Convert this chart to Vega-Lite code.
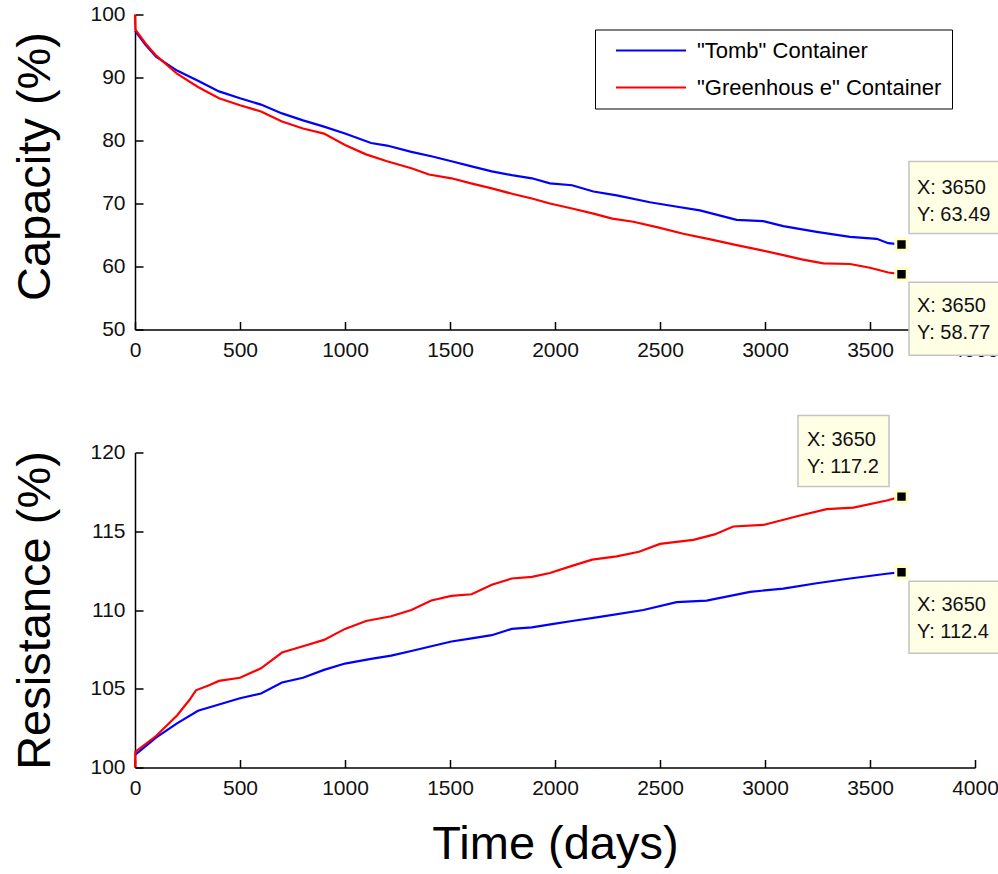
{
  "$schema": "https://vega.github.io/schema/vega-lite/v6.json",
  "background": "white",
  "padding": {"left": 10, "top": 3.5, "right": 0, "bottom": 0},
  "bounds": "flush",
  "spacing": 123,
  "config": {
    "view": {"stroke": null},
    "axis": {
      "grid": false,
      "domainColor": "#000",
      "domainWidth": 1.5,
      "tickColor": "#000",
      "tickWidth": 1.5,
      "tickSize": -8,
      "labelPadding": 18,
      "labelFlush": false,
      "labelOverlap": false,
      "format": "d",
      "labelFont": "Liberation Sans",
      "labelFontSize": 21,
      "labelColor": "#111",
      "titleFont": "Liberation Sans",
      "titleFontSize": 47,
      "titleFontWeight": "normal",
      "titleColor": "#000"
    }
  },
  "resolve": {"legend": {"color": "independent"}},
  "datasets": {
    "capacity": [
      {"day": 0, "value": 97.4, "series": "\"Tomb\" Container"},
      {"day": 50, "value": 95.2, "series": "\"Tomb\" Container"},
      {"day": 100, "value": 93.3, "series": "\"Tomb\" Container"},
      {"day": 200, "value": 91.1, "series": "\"Tomb\" Container"},
      {"day": 300, "value": 89.5, "series": "\"Tomb\" Container"},
      {"day": 400, "value": 87.8, "series": "\"Tomb\" Container"},
      {"day": 500, "value": 86.7, "series": "\"Tomb\" Container"},
      {"day": 600, "value": 85.7, "series": "\"Tomb\" Container"},
      {"day": 700, "value": 84.3, "series": "\"Tomb\" Container"},
      {"day": 800, "value": 83.2, "series": "\"Tomb\" Container"},
      {"day": 900, "value": 82.2, "series": "\"Tomb\" Container"},
      {"day": 1000, "value": 81.1, "series": "\"Tomb\" Container"},
      {"day": 1124, "value": 79.6, "series": "\"Tomb\" Container"},
      {"day": 1200, "value": 79.2, "series": "\"Tomb\" Container"},
      {"day": 1316, "value": 78.2, "series": "\"Tomb\" Container"},
      {"day": 1411, "value": 77.5, "series": "\"Tomb\" Container"},
      {"day": 1507, "value": 76.7, "series": "\"Tomb\" Container"},
      {"day": 1603, "value": 75.9, "series": "\"Tomb\" Container"},
      {"day": 1699, "value": 75.1, "series": "\"Tomb\" Container"},
      {"day": 1794, "value": 74.5, "series": "\"Tomb\" Container"},
      {"day": 1890, "value": 74.0, "series": "\"Tomb\" Container"},
      {"day": 1976, "value": 73.2, "series": "\"Tomb\" Container"},
      {"day": 2081, "value": 72.9, "series": "\"Tomb\" Container"},
      {"day": 2183, "value": 71.9, "series": "\"Tomb\" Container"},
      {"day": 2294, "value": 71.3, "series": "\"Tomb\" Container"},
      {"day": 2452, "value": 70.2, "series": "\"Tomb\" Container"},
      {"day": 2560, "value": 69.6, "series": "\"Tomb\" Container"},
      {"day": 2690, "value": 68.9, "series": "\"Tomb\" Container"},
      {"day": 2865, "value": 67.4, "series": "\"Tomb\" Container"},
      {"day": 2992, "value": 67.2, "series": "\"Tomb\" Container"},
      {"day": 3087, "value": 66.4, "series": "\"Tomb\" Container"},
      {"day": 3246, "value": 65.5, "series": "\"Tomb\" Container"},
      {"day": 3405, "value": 64.7, "series": "\"Tomb\" Container"},
      {"day": 3532, "value": 64.4, "series": "\"Tomb\" Container"},
      {"day": 3587, "value": 63.7, "series": "\"Tomb\" Container"},
      {"day": 3650, "value": 63.49, "series": "\"Tomb\" Container"},
      {"day": 0, "value": 100, "series": "\"Greenhous e\" Container"},
      {"day": 2, "value": 97.6, "series": "\"Greenhous e\" Container"},
      {"day": 50, "value": 95.4, "series": "\"Greenhous e\" Container"},
      {"day": 100, "value": 93.5, "series": "\"Greenhous e\" Container"},
      {"day": 200, "value": 90.6, "series": "\"Greenhous e\" Container"},
      {"day": 300, "value": 88.5, "series": "\"Greenhous e\" Container"},
      {"day": 400, "value": 86.7, "series": "\"Greenhous e\" Container"},
      {"day": 500, "value": 85.6, "series": "\"Greenhous e\" Container"},
      {"day": 600, "value": 84.6, "series": "\"Greenhous e\" Container"},
      {"day": 700, "value": 83.0, "series": "\"Greenhous e\" Container"},
      {"day": 800, "value": 81.9, "series": "\"Greenhous e\" Container"},
      {"day": 900, "value": 81.1, "series": "\"Greenhous e\" Container"},
      {"day": 1000, "value": 79.3, "series": "\"Greenhous e\" Container"},
      {"day": 1100, "value": 77.8, "series": "\"Greenhous e\" Container"},
      {"day": 1200, "value": 76.7, "series": "\"Greenhous e\" Container"},
      {"day": 1316, "value": 75.6, "series": "\"Greenhous e\" Container"},
      {"day": 1400, "value": 74.6, "series": "\"Greenhous e\" Container"},
      {"day": 1507, "value": 74.0, "series": "\"Greenhous e\" Container"},
      {"day": 1600, "value": 73.2, "series": "\"Greenhous e\" Container"},
      {"day": 1699, "value": 72.4, "series": "\"Greenhous e\" Container"},
      {"day": 1800, "value": 71.5, "series": "\"Greenhous e\" Container"},
      {"day": 1890, "value": 70.8, "series": "\"Greenhous e\" Container"},
      {"day": 1976, "value": 70.0, "series": "\"Greenhous e\" Container"},
      {"day": 2081, "value": 69.2, "series": "\"Greenhous e\" Container"},
      {"day": 2183, "value": 68.4, "series": "\"Greenhous e\" Container"},
      {"day": 2273, "value": 67.6, "series": "\"Greenhous e\" Container"},
      {"day": 2373, "value": 67.1, "series": "\"Greenhous e\" Container"},
      {"day": 2490, "value": 66.2, "series": "\"Greenhous e\" Container"},
      {"day": 2611, "value": 65.2, "series": "\"Greenhous e\" Container"},
      {"day": 2740, "value": 64.3, "series": "\"Greenhous e\" Container"},
      {"day": 2865, "value": 63.4, "series": "\"Greenhous e\" Container"},
      {"day": 2980, "value": 62.6, "series": "\"Greenhous e\" Container"},
      {"day": 3087, "value": 61.8, "series": "\"Greenhous e\" Container"},
      {"day": 3180, "value": 61.1, "series": "\"Greenhous e\" Container"},
      {"day": 3278, "value": 60.5, "series": "\"Greenhous e\" Container"},
      {"day": 3405, "value": 60.4, "series": "\"Greenhous e\" Container"},
      {"day": 3500, "value": 59.8, "series": "\"Greenhous e\" Container"},
      {"day": 3587, "value": 59.05, "series": "\"Greenhous e\" Container"},
      {"day": 3650, "value": 58.77, "series": "\"Greenhous e\" Container"}
    ],
    "resistance": [
      {"day": 0, "value": 100.8, "series": "\"Tomb\" Container"},
      {"day": 100, "value": 101.9, "series": "\"Tomb\" Container"},
      {"day": 200, "value": 102.8, "series": "\"Tomb\" Container"},
      {"day": 300, "value": 103.6, "series": "\"Tomb\" Container"},
      {"day": 400, "value": 104.0, "series": "\"Tomb\" Container"},
      {"day": 500, "value": 104.4, "series": "\"Tomb\" Container"},
      {"day": 600, "value": 104.7, "series": "\"Tomb\" Container"},
      {"day": 700, "value": 105.4, "series": "\"Tomb\" Container"},
      {"day": 800, "value": 105.7, "series": "\"Tomb\" Container"},
      {"day": 900, "value": 106.2, "series": "\"Tomb\" Container"},
      {"day": 1000, "value": 106.6, "series": "\"Tomb\" Container"},
      {"day": 1124, "value": 106.9, "series": "\"Tomb\" Container"},
      {"day": 1220, "value": 107.1, "series": "\"Tomb\" Container"},
      {"day": 1316, "value": 107.4, "series": "\"Tomb\" Container"},
      {"day": 1411, "value": 107.7, "series": "\"Tomb\" Container"},
      {"day": 1507, "value": 108.0, "series": "\"Tomb\" Container"},
      {"day": 1603, "value": 108.2, "series": "\"Tomb\" Container"},
      {"day": 1699, "value": 108.4, "series": "\"Tomb\" Container"},
      {"day": 1794, "value": 108.8, "series": "\"Tomb\" Container"},
      {"day": 1890, "value": 108.9, "series": "\"Tomb\" Container"},
      {"day": 1986, "value": 109.1, "series": "\"Tomb\" Container"},
      {"day": 2081, "value": 109.3, "series": "\"Tomb\" Container"},
      {"day": 2214, "value": 109.56, "series": "\"Tomb\" Container"},
      {"day": 2421, "value": 110.0, "series": "\"Tomb\" Container"},
      {"day": 2579, "value": 110.5, "series": "\"Tomb\" Container"},
      {"day": 2722, "value": 110.6, "series": "\"Tomb\" Container"},
      {"day": 2929, "value": 111.15, "series": "\"Tomb\" Container"},
      {"day": 3087, "value": 111.36, "series": "\"Tomb\" Container"},
      {"day": 3246, "value": 111.7, "series": "\"Tomb\" Container"},
      {"day": 3405, "value": 112.0, "series": "\"Tomb\" Container"},
      {"day": 3579, "value": 112.3, "series": "\"Tomb\" Container"},
      {"day": 3650, "value": 112.4, "series": "\"Tomb\" Container"},
      {"day": 0, "value": 100, "series": "\"Greenhous e\" Container"},
      {"day": 2, "value": 101.0, "series": "\"Greenhous e\" Container"},
      {"day": 100, "value": 102.0, "series": "\"Greenhous e\" Container"},
      {"day": 200, "value": 103.3, "series": "\"Greenhous e\" Container"},
      {"day": 260, "value": 104.3, "series": "\"Greenhous e\" Container"},
      {"day": 290, "value": 104.9, "series": "\"Greenhous e\" Container"},
      {"day": 350, "value": 105.2, "series": "\"Greenhous e\" Container"},
      {"day": 400, "value": 105.5, "series": "\"Greenhous e\" Container"},
      {"day": 500, "value": 105.7, "series": "\"Greenhous e\" Container"},
      {"day": 600, "value": 106.3, "series": "\"Greenhous e\" Container"},
      {"day": 700, "value": 107.3, "series": "\"Greenhous e\" Container"},
      {"day": 800, "value": 107.7, "series": "\"Greenhous e\" Container"},
      {"day": 900, "value": 108.1, "series": "\"Greenhous e\" Container"},
      {"day": 1000, "value": 108.8, "series": "\"Greenhous e\" Container"},
      {"day": 1100, "value": 109.3, "series": "\"Greenhous e\" Container"},
      {"day": 1220, "value": 109.6, "series": "\"Greenhous e\" Container"},
      {"day": 1316, "value": 110.0, "series": "\"Greenhous e\" Container"},
      {"day": 1411, "value": 110.6, "series": "\"Greenhous e\" Container"},
      {"day": 1507, "value": 110.9, "series": "\"Greenhous e\" Container"},
      {"day": 1603, "value": 111.0, "series": "\"Greenhous e\" Container"},
      {"day": 1699, "value": 111.6, "series": "\"Greenhous e\" Container"},
      {"day": 1794, "value": 112.0, "series": "\"Greenhous e\" Container"},
      {"day": 1890, "value": 112.1, "series": "\"Greenhous e\" Container"},
      {"day": 1976, "value": 112.35, "series": "\"Greenhous e\" Container"},
      {"day": 2081, "value": 112.8, "series": "\"Greenhous e\" Container"},
      {"day": 2177, "value": 113.2, "series": "\"Greenhous e\" Container"},
      {"day": 2294, "value": 113.4, "series": "\"Greenhous e\" Container"},
      {"day": 2400, "value": 113.7, "series": "\"Greenhous e\" Container"},
      {"day": 2500, "value": 114.2, "series": "\"Greenhous e\" Container"},
      {"day": 2659, "value": 114.45, "series": "\"Greenhous e\" Container"},
      {"day": 2760, "value": 114.8, "series": "\"Greenhous e\" Container"},
      {"day": 2849, "value": 115.3, "series": "\"Greenhous e\" Container"},
      {"day": 2992, "value": 115.4, "series": "\"Greenhous e\" Container"},
      {"day": 3167, "value": 116.0, "series": "\"Greenhous e\" Container"},
      {"day": 3294, "value": 116.4, "series": "\"Greenhous e\" Container"},
      {"day": 3421, "value": 116.5, "series": "\"Greenhous e\" Container"},
      {"day": 3580, "value": 116.95, "series": "\"Greenhous e\" Container"},
      {"day": 3650, "value": 117.2, "series": "\"Greenhous e\" Container"}
    ],
    "capTips": [
      {"day": 3650, "value": 63.49, "tip": "X: 3650\nY: 63.49", "pos": "above-right"},
      {"day": 3650, "value": 58.77, "tip": "X: 3650\nY: 58.77", "pos": "below-right"}
    ],
    "resTips": [
      {"day": 3650, "value": 117.2, "tip": "X: 3650\nY: 117.2", "pos": "above-left"},
      {"day": 3650, "value": 112.4, "tip": "X: 3650\nY: 112.4", "pos": "below-right"}
    ]
  },
  "vconcat": [
    {
      "width": 840,
      "height": 315,
      "encoding": {
        "x": {"field": "day", "type": "quantitative", "scale": {"domain": [0, 4000], "nice": false}, "axis": {"values": [0, 500, 1000, 1500, 2000, 2500, 3000, 3500, 4000], "title": null}},
        "y": {"field": "value", "type": "quantitative", "scale": {"domain": [50, 100], "nice": false, "zero": false}, "axis": {"values": [50, 60, 70, 80, 90, 100], "title": "Capacity (%)", "titleX": -76, "titleY": 151.5, "titleAngle": -90, "titleAlign": "center", "titleBaseline": "bottom"}}
      },
      "layer": [
        {
          "data": {"name": "capacity"},
          "mark": {"type": "line", "strokeWidth": 2.2},
          "encoding": {
            "color": {"field": "series", "type": "nominal",
              "scale": {"domain": ["\"Tomb\" Container", "\"Greenhous e\" Container"], "range": ["#0000ff", "#ff0000"]},
              "legend": {"orient": "none", "legendX": 460, "legendY": 15, "title": null, "symbolType": "M0,0H10", "symbolSize": 196, "symbolStrokeWidth": 2.2, "labelFont": "Liberation Sans", "labelFontSize": 22, "labelColor": "#000", "labelOffset": 70, "rowPadding": 15, "padding": 10, "strokeColor": "#000", "fillColor": "#fff", "labelLimit": 400}}
          }
        },
        {
          "data": {"name": "capTips"},
          "transform": [{"filter": "datum.pos == 'above-right'"}],
          "mark": {"type": "rect", "fill": "#ffffe6", "stroke": "#c4c4c4", "strokeWidth": 1.5, "xOffset": 7.5, "x2Offset": 100, "yOffset": -83, "y2Offset": -11},
          "encoding": {"x2": {"field": "day"}, "y2": {"field": "value"}}
        },
        {
          "data": {"name": "capTips"},
          "transform": [{"filter": "datum.pos == 'above-right'"}],
          "mark": {"type": "text", "align": "left", "baseline": "alphabetic", "dx": 15.5, "dy": -51, "lineBreak": "\n", "lineHeight": 27, "font": "Liberation Sans", "fontSize": 20, "color": "#111"},
          "encoding": {"text": {"field": "tip"}}
        },
        {
          "data": {"name": "capTips"},
          "transform": [{"filter": "datum.pos == 'below-right'"}],
          "mark": {"type": "rect", "fill": "#ffffe6", "stroke": "#c4c4c4", "strokeWidth": 1.5, "xOffset": 7.5, "x2Offset": 100, "yOffset": 8, "y2Offset": 81},
          "encoding": {"x2": {"field": "day"}, "y2": {"field": "value"}}
        },
        {
          "data": {"name": "capTips"},
          "transform": [{"filter": "datum.pos == 'below-right'"}],
          "mark": {"type": "text", "align": "left", "baseline": "alphabetic", "dx": 15.5, "dy": 38, "lineBreak": "\n", "lineHeight": 27, "font": "Liberation Sans", "fontSize": 20, "color": "#111"},
          "encoding": {"text": {"field": "tip"}}
        },
        {
          "data": {"name": "capTips"},
          "mark": {"type": "point", "shape": "square", "size": 130, "filled": true, "color": "#000", "stroke": "#ffffc8", "strokeWidth": 3, "opacity": 1}
        }
      ]
    },
    {
      "width": 840,
      "height": 315,
      "encoding": {
        "x": {"field": "day", "type": "quantitative", "scale": {"domain": [0, 4000], "nice": false}, "axis": {"values": [0, 500, 1000, 1500, 2000, 2500, 3000, 3500, 4000], "title": "Time (days)", "titleX": 420, "titleY": 91, "titleAlign": "center", "titleBaseline": "alphabetic"}},
        "y": {"field": "value", "type": "quantitative", "scale": {"domain": [100, 120], "nice": false, "zero": false}, "axis": {"values": [100, 105, 110, 115, 120], "title": "Resistance (%)", "titleX": -76, "titleY": 157.5, "titleAngle": -90, "titleAlign": "center", "titleBaseline": "bottom"}}
      },
      "layer": [
        {
          "data": {"name": "resistance"},
          "mark": {"type": "line", "strokeWidth": 2.2},
          "encoding": {
            "color": {"field": "series", "type": "nominal",
              "scale": {"domain": ["\"Tomb\" Container", "\"Greenhous e\" Container"], "range": ["#0000ff", "#ff0000"]},
              "legend": null}
          }
        },
        {
          "data": {"name": "resTips"},
          "transform": [{"filter": "datum.pos == 'above-left'"}],
          "mark": {"type": "rect", "fill": "#ffffe6", "stroke": "#c4c4c4", "strokeWidth": 1.5, "xOffset": -103.5, "x2Offset": -12.5, "yOffset": -81, "y2Offset": -10},
          "encoding": {"x2": {"field": "day"}, "y2": {"field": "value"}}
        },
        {
          "data": {"name": "resTips"},
          "transform": [{"filter": "datum.pos == 'above-left'"}],
          "mark": {"type": "text", "align": "left", "baseline": "alphabetic", "dx": -94.5, "dy": -51, "lineBreak": "\n", "lineHeight": 27, "font": "Liberation Sans", "fontSize": 20, "color": "#111"},
          "encoding": {"text": {"field": "tip"}}
        },
        {
          "data": {"name": "resTips"},
          "transform": [{"filter": "datum.pos == 'below-right'"}],
          "mark": {"type": "rect", "fill": "#ffffe6", "stroke": "#c4c4c4", "strokeWidth": 1.5, "xOffset": 7.5, "x2Offset": 100, "yOffset": 9, "y2Offset": 81},
          "encoding": {"x2": {"field": "day"}, "y2": {"field": "value"}}
        },
        {
          "data": {"name": "resTips"},
          "transform": [{"filter": "datum.pos == 'below-right'"}],
          "mark": {"type": "text", "align": "left", "baseline": "alphabetic", "dx": 15.5, "dy": 39, "lineBreak": "\n", "lineHeight": 27, "font": "Liberation Sans", "fontSize": 20, "color": "#111"},
          "encoding": {"text": {"field": "tip"}}
        },
        {
          "data": {"name": "resTips"},
          "mark": {"type": "point", "shape": "square", "size": 130, "filled": true, "color": "#000", "stroke": "#ffffc8", "strokeWidth": 3, "opacity": 1}
        }
      ]
    }
  ]
}
